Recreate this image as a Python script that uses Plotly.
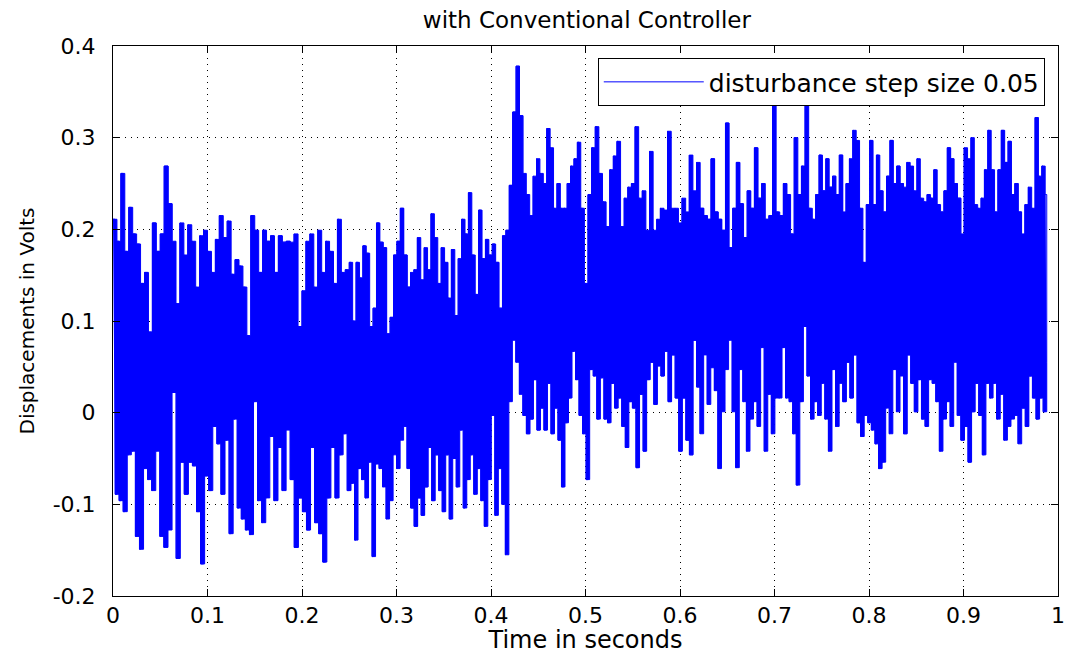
import numpy as np
import plotly.graph_objects as go

# time boundaries of the four read-off segments (seconds)
seg_bounds = [0.0, 0.25, 0.495, 0.74, 0.99]

# upper envelope peaks (Volts)
upper_1 = [0.211, 0.187, 0.261, 0.176, 0.224, 0.195, 0.184, 0.141, 0.153, 0.088,
           0.207, 0.176, 0.195, 0.269, 0.228, 0.187, 0.119, 0.207, 0.172, 0.205,
           0.187, 0.137, 0.193, 0.199, 0.176, 0.153, 0.189, 0.215, 0.191, 0.209,
           0.151, 0.167, 0.160, 0.137, 0.084, 0.215, 0.199, 0.153, 0.199, 0.187,
           0.193, 0.153, 0.193, 0.186, 0.187, 0.186, 0.195, 0.094, 0.133, 0.187,
           0.195, 0.137, 0.199, 0.153, 0.187, 0.176, 0.141, 0.211, 0.153, 0.156]
upper_2 = [0.164, 0.100, 0.164, 0.147, 0.182, 0.174, 0.094, 0.114, 0.207, 0.186,
           0.180, 0.086, 0.104, 0.172, 0.187, 0.223, 0.172, 0.137, 0.153, 0.156,
           0.191, 0.145, 0.180, 0.156, 0.217, 0.191, 0.141, 0.180, 0.164, 0.125,
           0.178, 0.106, 0.168, 0.211, 0.195, 0.240, 0.172, 0.129, 0.221, 0.168,
           0.189, 0.172, 0.184, 0.164, 0.114, 0.193, 0.199, 0.248, 0.328, 0.378,
           0.324, 0.261, 0.238, 0.215, 0.258, 0.277, 0.261, 0.250, 0.310, 0.289,
           0.223, 0.250, 0.223, 0.223, 0.250, 0.269, 0.277, 0.295]
upper_3 = [0.223, 0.141, 0.238, 0.289, 0.312, 0.261, 0.230, 0.203, 0.265, 0.280,
           0.296, 0.203, 0.234, 0.246, 0.250, 0.312, 0.234, 0.242, 0.199, 0.285,
           0.199, 0.211, 0.223, 0.221, 0.307, 0.223, 0.223, 0.207, 0.234, 0.219,
           0.281, 0.242, 0.273, 0.223, 0.215, 0.211, 0.277, 0.219, 0.211, 0.199,
           0.316, 0.180, 0.223, 0.273, 0.228, 0.191, 0.242, 0.223, 0.289, 0.234,
           0.250, 0.211, 0.215, 0.343, 0.219, 0.215, 0.250, 0.238, 0.195, 0.300,
           0.238, 0.269, 0.335, 0.223]
upper_4 = [0.211, 0.238, 0.281, 0.242, 0.277, 0.246, 0.258, 0.238, 0.281, 0.219,
           0.250, 0.277, 0.308, 0.297, 0.223, 0.164, 0.227, 0.297, 0.227, 0.281,
           0.242, 0.219, 0.258, 0.297, 0.250, 0.269, 0.250, 0.246, 0.273, 0.269,
           0.242, 0.277, 0.234, 0.230, 0.238, 0.234, 0.265, 0.227, 0.219, 0.242,
           0.289, 0.277, 0.250, 0.234, 0.195, 0.289, 0.277, 0.300, 0.227, 0.223,
           0.234, 0.265, 0.308, 0.265, 0.219, 0.265, 0.308, 0.273, 0.296, 0.238,
           0.250, 0.219, 0.195, 0.227, 0.246, 0.223, 0.322, 0.258, 0.269, 0.238]

# lower envelope troughs (Volts)
lower_1 = [-0.089, -0.096, -0.108, -0.046, -0.042, -0.135, -0.149, -0.061, -0.073, -0.085,
           -0.042, -0.135, -0.147, -0.128, 0.022, -0.159, -0.054, -0.089, -0.054, -0.058,
           -0.108, -0.165, -0.069, -0.085, -0.015, -0.034, -0.089, -0.030, -0.132, -0.007,
           -0.104, -0.116, -0.128, -0.133, 0.012, -0.096, -0.120, -0.093, -0.026, -0.096,
           -0.038, -0.085, -0.019, -0.073, -0.147, -0.093, -0.108, -0.128, -0.038, -0.120,
           -0.132, -0.163, -0.093, -0.038, -0.093, -0.046, -0.023, -0.085]
lower_2 = [-0.077, -0.139, -0.061, -0.073, -0.093, -0.054, -0.157, -0.056, -0.061, -0.081,
           -0.116, -0.096, -0.046, -0.061, -0.030, -0.015, -0.061, -0.104, -0.124, -0.093,
           -0.112, -0.081, -0.038, -0.096, -0.046, -0.085, -0.108, -0.046, -0.116, -0.050,
           -0.081, -0.019, -0.104, -0.073, -0.046, -0.089, -0.061, -0.096, -0.124, -0.073,
           -0.003, -0.112, -0.061, -0.100, -0.155, 0.012, 0.079, 0.055, 0.020, -0.003,
           -0.023, -0.007, 0.036, -0.019, 0.005, -0.019, 0.032, -0.023, 0.005, -0.030,
           -0.081, -0.011, 0.016, 0.067, 0.036, -0.003]
lower_3 = [-0.023, -0.073, 0.047, 0.040, -0.007, 0.038, -0.007, -0.011, 0.032, 0.005,
           0.016, -0.015, -0.038, 0.012, 0.005, -0.060, 0.020, -0.042, 0.036, 0.055,
           0.009, 0.051, 0.040, 0.067, 0.012, 0.063, 0.016, -0.042, 0.016, -0.030,
           -0.046, 0.079, 0.028, -0.023, 0.063, 0.009, 0.049, 0.024, -0.061, 0.001,
           0.047, 0.079, 0.001, -0.060, 0.047, 0.012, -0.042, -0.007, 0.012, -0.015,
           0.071, -0.042, 0.020, -0.023, 0.016, 0.016, 0.071, 0.016, 0.012, -0.023,
           -0.079, 0.012, 0.094, 0.040, -0.007]
lower_4 = [0.012, -0.003, 0.032, -0.007, -0.042, 0.047, -0.015, 0.032, 0.012, 0.055,
           0.016, 0.063, -0.011, -0.026, -0.003, -0.011, -0.019, -0.034, -0.061, -0.054,
           0.005, -0.023, 0.047, 0.001, 0.040, -0.023, 0.063, 0.032, 0.001, 0.036,
           -0.007, -0.015, 0.036, 0.032, 0.012, -0.042, -0.007, 0.012, -0.015, 0.055,
           -0.003, -0.030, -0.015, -0.054, 0.001, 0.032, -0.003, -0.046, 0.032, 0.016,
           0.032, -0.007, 0.020, -0.030, -0.015, -0.007, -0.003, -0.034, 0.005, -0.015,
           0.040, 0.016, -0.007, 0.016, 0.001, 0.055]

x_ticks = [0, 0.1, 0.2, 0.3, 0.4, 0.5, 0.6, 0.7, 0.8, 0.9, 1.0]
x_tick_labels = ["0", "0.1", "0.2", "0.3", "0.4", "0.5", "0.6", "0.7", "0.8", "0.9", "1"]
y_ticks = [-0.2, -0.1, 0, 0.1, 0.2, 0.3, 0.4]
y_tick_labels = ["-0.2", "-0.1", "0", "0.1", "0.2", "0.3", "0.4"]

uppers = [upper_1, upper_2, upper_3, upper_4]
lowers = [lower_1, lower_2, lower_3, lower_4]

tu_all, vu_all, tl_all, vl_all = [], [], [], []
t_all, v_all = [], []
for i, (up, lo) in enumerate(zip(uppers, lowers)):
    t0, t1 = seg_bounds[i], seg_bounds[i + 1]
    tu = t0 + np.arange(len(up)) * (t1 - t0) / len(up)
    tl = t0 + (np.arange(len(lo)) + 0.5) * (t1 - t0) / len(lo)
    tu_all.extend(tu.tolist()); vu_all.extend(up)
    tl_all.extend(tl.tolist()); vl_all.extend(lo)
    t = np.concatenate([tu, tl])
    v = np.concatenate([up, lo])
    order = np.argsort(t, kind="stable")
    t_all.extend(t[order].tolist())
    v_all.extend(v[order].tolist())

BLUE = "#0000ff"
FONT = "DejaVu Sans"

fig = go.Figure()
# troughs of the dense signal
fig.add_trace(go.Scatter(
    x=tl_all, y=vl_all, mode="lines", line=dict(color=BLUE, width=1, shape="hv"),
    showlegend=False, hoverinfo="skip",
))
# peaks of the dense signal, body filled down to the troughs
fig.add_trace(go.Scatter(
    x=tu_all, y=vu_all, mode="lines", line=dict(color=BLUE, width=1, shape="hv"),
    fill="tonexty", fillcolor=BLUE, showlegend=False, hoverinfo="skip",
))
# the signal itself
fig.add_trace(go.Scatter(
    x=t_all, y=v_all, mode="lines",
    line=dict(color=BLUE, width=1, shape="hv"),
    name="disturbance step size 0.05",
))

axis_common = dict(
    showline=True, linecolor="black", linewidth=1, mirror="ticks",
    ticks="inside", ticklen=7, tickcolor="black", tickwidth=1,
    showgrid=True, gridcolor="black", gridwidth=1, griddash="1px,5px",
    zeroline=False, ticklabeloverflow="allow",
    tickfont=dict(family=FONT, size=22, color="black"),
)

fig.update_layout(
    width=1071, height=654, autosize=False,
    margin=dict(l=113, r=6, t=46, b=58),
    paper_bgcolor="white", plot_bgcolor="white",
    title=dict(text="with Conventional Controller", x=0.548, xanchor="center",
               y=0.969, yanchor="middle", yref="container",
               font=dict(family=FONT, size=23, color="black")),
    xaxis=dict(range=[0, 1], tickvals=x_ticks, ticktext=x_tick_labels,
               title=dict(text="Time in seconds", standoff=2,
                          font=dict(family=FONT, size=24, color="black")),
               **axis_common),
    yaxis=dict(range=[-0.2, 0.4], tickvals=y_ticks, ticktext=y_tick_labels,
               ticklabelstandoff=12,
               title=dict(text="Displacements in Volts", standoff=12,
                          font=dict(family=FONT, size=20, color="black")),
               **axis_common),
    showlegend=True,
    legend=dict(x=0.986, xanchor="right", y=0.978, yanchor="top",
                bgcolor="white", bordercolor="black", borderwidth=1,
                itemwidth=100, font=dict(family=FONT, size=25, color="black")),
)

fig.write_html("out.html")
